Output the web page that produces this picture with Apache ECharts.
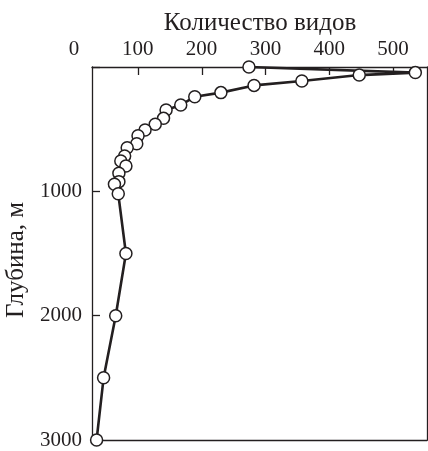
<!DOCTYPE html>
<html>
<head>
<meta charset="utf-8">
<script src="https://cdn.jsdelivr.net/npm/echarts@6/dist/echarts.min.js"></script>
<style>html,body{margin:0;padding:0;background:#fff}#c{width:428px;height:451px}</style>
</head>
<body>
<div id="c"></div>
<script>
// Data
const speciesCount = [274, 535, 447, 357, 282, 230, 189, 167, 144, 140, 127, 111, 100, 98, 83, 79, 73, 81, 70, 70, 63, 69, 81, 65, 46, 35];
const depthM = [0, 45, 65, 113, 148, 206, 239, 306, 346, 413, 461, 507, 553, 617, 649, 716, 756, 796, 855, 922, 943, 1020, 1500, 2000, 2500, 3000];
const xTicks = [0, 100, 200, 300, 400, 500];
const yTicks = [1000, 2000, 3000];
const xTitle = 'Количество видов';
const yTitle = 'Глубина, м';

const FONT = "'Liberation Serif', 'Times New Roman', serif";
const INK = '#231f20';
const X_FRAME_MIN = 27.8, X_MAX = 553.3;

const chart = echarts.init(document.getElementById('c'), null, {renderer: 'canvas'});
const pts = speciesCount.map((v, i) => [v, depthM[i]]);
const lineAx = {lineStyle: {color: INK, width: 1.3}};

chart.setOption({
  animation: false,
  backgroundColor: '#fff',
  title: {
    text: xTitle, left: 255, top: 6, textAlign: 'center',
    textStyle: {fontFamily: FONT, fontSize: 25, fontWeight: 'normal', color: INK}
  },
  grid: [
    {left: 92, right: 1, top: 67, bottom: 11, outerBoundsMode: 'none', containLabel: false},
    {left: 74, right: 1, top: 67, bottom: 11, outerBoundsMode: 'none', containLabel: false}
  ],
  xAxis: [
    {gridIndex: 0, type: 'value', position: 'top', min: X_FRAME_MIN, max: X_MAX,
     axisLine: {show: true, ...lineAx},
     axisTick: {show: true, inside: true, length: 8, customValues: xTicks.filter(v => v > X_FRAME_MIN), lineStyle: {color: INK, width: 1.3}},
     axisLabel: {show: false}, splitLine: {show: false}},
    {gridIndex: 0, type: 'value', position: 'bottom', min: X_FRAME_MIN, max: X_MAX,
     axisLine: {show: true, onZero: false, ...lineAx}, axisTick: {show: false},
     axisLabel: {show: false}, splitLine: {show: false}},
    {gridIndex: 1, type: 'value', position: 'top', min: 0, max: X_MAX, interval: 100,
     axisLine: {show: false}, axisTick: {show: false}, splitLine: {show: false},
     axisLabel: {show: true, margin: 7, fontFamily: FONT, fontSize: 21, color: INK,
       formatter: v => (xTicks.indexOf(v) >= 0 ? String(v) : '')}}
  ],
  yAxis: [
    {gridIndex: 0, type: 'value', inverse: true, min: 0, max: 3000, interval: 1000,
     axisLine: {show: true, ...lineAx},
     axisTick: {show: true, inside: true, length: 8, lineStyle: {color: INK, width: 1.3}},
     axisLabel: {show: true, margin: 10, fontFamily: FONT, fontSize: 21, color: INK,
       formatter: v => (yTicks.indexOf(v) >= 0 ? String(v) : '')},
     splitLine: {show: false},
     name: yTitle, nameLocation: 'middle', nameGap: 57, nameRotate: 90,
     nameTextStyle: {fontFamily: FONT, fontSize: 25, color: INK, padding: [0, 13, 0, 0]}},
    {gridIndex: 0, type: 'value', inverse: true, min: 0, max: 3000, position: 'right',
     axisLine: {show: true, onZero: false, ...lineAx}, axisTick: {show: false},
     axisLabel: {show: false}, splitLine: {show: false}},
    {gridIndex: 1, type: 'value', inverse: true, min: 0, max: 3000, show: false}
  ],
  series: [{
    type: 'line', xAxisIndex: 0, yAxisIndex: 0, data: pts,
    symbol: 'circle', symbolSize: 12, showAllSymbol: true,
    lineStyle: {color: INK, width: 2.6},
    itemStyle: {color: '#fff', borderColor: INK, borderWidth: 1.5},
    z: 5
  }]
});
</script>
</body>
</html>
